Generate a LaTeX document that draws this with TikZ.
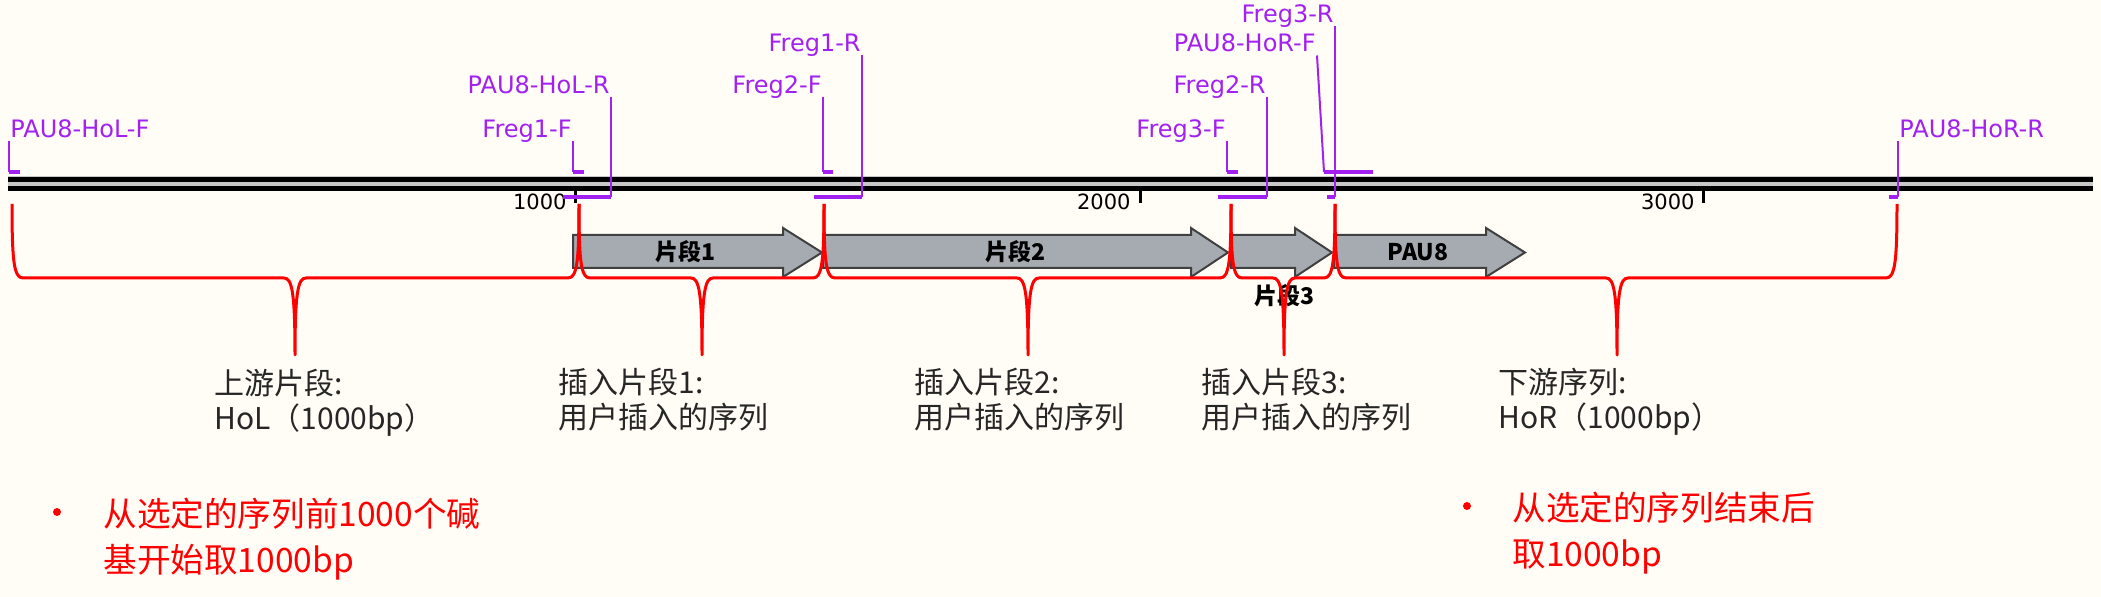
\documentclass[tikz,border=0pt]{standalone}
\usepackage{fontspec}
\setmainfont{DejaVu Sans}
\newfontfamily\cjk{Noto Sans CJK SC}
\usepackage{tikz}

\definecolor{paper}{RGB}{255,253,246}
\definecolor{primcol}{RGB}{162,32,240}
\definecolor{fraggray}{RGB}{166,171,178}
\definecolor{fragedge}{RGB}{64,64,64}
\definecolor{notegray}{RGB}{38,38,38}
\definecolor{strandgap}{RGB}{200,200,200}

\tikzset{
  plabel/.style={inner sep=0.5pt, text=primcol, font=\fontsize{12}{14}\selectfont},
  lead/.style={primcol, line width=1pt},
  pbody/.style={primcol, line width=1.75pt},
  bpmark/.style={line width=1.5pt},
  bplabel/.style={inner sep=0pt, font=\fontsize{10.5}{12}\selectfont},
  frag/.style={fill=fraggray, draw=fragedge, line width=1pt, line join=miter},
  fraglabel/.style={inner sep=0pt, font=\cjk\bfseries\fontsize{11.5}{13}\selectfont},
  region/.style={red, line width=1.5pt, line join=round},
  note/.style={inner sep=0pt, align=left, text=notegray, font=\cjk\fontsize{15}{17.5}\selectfont},
  redtext/.style={inner sep=0pt, align=left, text=red, font=\cjk\fontsize{16.8}{23}\selectfont},
  bulletdot/.style={circle, fill=red, inner sep=0pt, minimum size=4pt},
}

\begin{document}
\begin{tikzpicture}[x=0.5pt, y=-0.5pt]
\fill[paper] (0,0) rectangle (2101,597);

% sequence line
\fill[strandgap] (8,176.5) rectangle (2093,191.5);
\draw[line width=2.5pt] (8,180) -- (2093,180);
\draw[line width=2.5pt] (8,188.5) -- (2093,188.5);
\draw[bpmark] (575,191) -- (575,203) node[bplabel, anchor=base east, xshift=-3.5pt, yshift=-3.5pt] (k1000) {1000};
\draw[bpmark] (1140,191) -- (1140,203) node[bplabel, anchor=base east, xshift=-4pt, yshift=-3.5pt] (k2000) {2000};
\draw[bpmark] (1703,191) -- (1703,203) node[bplabel, anchor=base east, xshift=-3.5pt, yshift=-3.5pt] (k3000) {3000};

% forward primers
\node[plabel, anchor=base west] (holF) at (9,138) {PAU8-HoL-F};
\coordinate (holFp) at (9,172);
\draw[lead] ([yshift=-1.75pt]holF.base west) -- (holFp);
\draw[pbody] (holFp) -- ++(11,0);

\node[plabel, anchor=base east] (f1F) at (573,138) {Freg1-F};
\coordinate (f1Fp) at (573,172);
\draw[lead] ([yshift=-1.75pt]f1F.base east) -- (f1Fp);
\draw[pbody] (f1Fp) -- ++(11,0);

\node[plabel, anchor=base east] (f2F) at (823,94) {Freg2-F};
\coordinate (f2Fp) at (823,172);
\draw[lead] ([yshift=-1.75pt]f2F.base east) -- (f2Fp);
\draw[pbody] (f2Fp) -- ++(10,0);

\node[plabel, anchor=base east] (f3F) at (1227,138) {Freg3-F};
\coordinate (f3Fp) at (1227,172);
\draw[lead] ([yshift=-1.75pt]f3F.base east) -- (f3Fp);
\draw[pbody] (f3Fp) -- ++(11,0);

\node[plabel, anchor=base east] (horF) at (1317,52) {PAU8-HoR-F};
\coordinate (horFp) at (1324,172);
\draw[lead] ([yshift=-1.75pt]horF.base east) -- (horFp);
\draw[pbody] (horFp) -- ++(49,0);

% reverse primers
\node[plabel, anchor=base east] (holR) at (611,94) {PAU8-HoL-R};
\coordinate (holRp) at (611,197);
\draw[lead] ([yshift=-1.75pt]holR.base east) -- (holRp);
\draw[pbody] (holRp) -- ++(-48,0);

\node[plabel, anchor=base east] (f1R) at (862,52) {Freg1-R};
\coordinate (f1Rp) at (862,197);
\draw[lead] ([yshift=-1.75pt]f1R.base east) -- (f1Rp);
\draw[pbody] (f1Rp) -- ++(-48,0);

\node[plabel, anchor=base east] (f2R) at (1267,94) {Freg2-R};
\coordinate (f2Rp) at (1267,197);
\draw[lead] ([yshift=-1.75pt]f2R.base east) -- (f2Rp);
\draw[pbody] (f2Rp) -- ++(-49,0);

\node[plabel, anchor=base east] (f3R) at (1335,23) {Freg3-R};
\coordinate (f3Rp) at (1335,197);
\draw[lead] ([yshift=-1.75pt]f3R.base east) -- (f3Rp);
\draw[pbody] (f3Rp) -- ++(-8,0);

\node[plabel, anchor=base west] (horR) at (1898,138) {PAU8-HoR-R};
\coordinate (horRp) at (1898,197);
\draw[lead] ([yshift=-1.75pt]horR.base west) -- (horRp);
\draw[pbody] (horRp) -- ++(-9,0);

% fragments
\draw[frag] (573,235) -- (783,235) -- (783,228) -- (822,252.5) -- (783,277) -- (783,268) -- (573,268) -- cycle;
\draw[frag] (823,235) -- (1191,235) -- (1191,228) -- (1228,252.5) -- (1191,277) -- (1191,268) -- (823,268) -- cycle;
\draw[frag] (1231,235) -- (1295,235) -- (1295,228) -- (1332,252.5) -- (1295,277) -- (1295,268) -- (1231,268) -- cycle;
\draw[frag] (1334,235) -- (1486,235) -- (1486,228) -- (1525,252.5) -- (1486,277) -- (1486,268) -- (1334,268) -- cycle;
\node[fraglabel] (frag1) at (685,252) {片段1};
\node[fraglabel] (frag2) at (1015,252) {片段2};
\node[fraglabel] (frag3) at (1284,296) {片段3};
\node[fraglabel] (pau8) at (1418,252) {PAU8};

% region braces
\draw[region] (12,204) .. controls (12,262) and (14,278) .. (23,278) -- (284,278) .. controls (292,278) and (295,292) .. (295,355) .. controls (295,292) and (298,278) .. (306,278) -- (568,278) .. controls (577,278) and (579,262) .. (579,204);
\draw[region] (579,204) .. controls (579,262) and (581,278) .. (590,278) -- (691,278) .. controls (699,278) and (702,292) .. (702,355) .. controls (702,292) and (705,278) .. (713,278) -- (813,278) .. controls (822,278) and (824,262) .. (824,204);
\draw[region] (824,204) .. controls (824,262) and (826,278) .. (835,278) -- (1017,278) .. controls (1025,278) and (1028,292) .. (1028,355) .. controls (1028,292) and (1031,278) .. (1039,278) -- (1220,278) .. controls (1229,278) and (1231,262) .. (1231,204);
\draw[region] (1231,204) .. controls (1231,262) and (1233,278) .. (1242,278) -- (1273,278) .. controls (1281,278) and (1284,292) .. (1284,355) .. controls (1284,292) and (1287,278) .. (1295,278) -- (1324,278) .. controls (1333,278) and (1335,262) .. (1335,204);
\draw[region] (1335,204) .. controls (1335,262) and (1337,278) .. (1346,278) -- (1606,278) .. controls (1614,278) and (1617,292) .. (1617,355) .. controls (1617,292) and (1620,278) .. (1628,278) -- (1886,278) .. controls (1895,278) and (1897,262) .. (1897,204);

% notes
\node[note, anchor=north west] (hol) at (214,369) {上游片段:\\HoL（1000bp）};
\node[note, anchor=north west] (ins1) at (558,368) {插入片段1:\\用户插入的序列};
\node[note, anchor=north west] (ins2) at (914,368) {插入片段2:\\用户插入的序列};
\node[note, anchor=north west] (ins3) at (1201,368) {插入片段3:\\用户插入的序列};
\node[note, anchor=north west] (hor) at (1498,368) {下游序列:\\HoR（1000bp）};

\node[bulletdot] (dot1) at (57,512) {};
\node[redtext, anchor=north west] (up) at (103,498) {从选定的序列前1000个碱\\基开始取1000bp};
\node[bulletdot] (dot2) at (1467,506) {};
\node[redtext, anchor=north west] (down) at (1512,492) {从选定的序列结束后\\取1000bp};
\end{tikzpicture}
\end{document}
